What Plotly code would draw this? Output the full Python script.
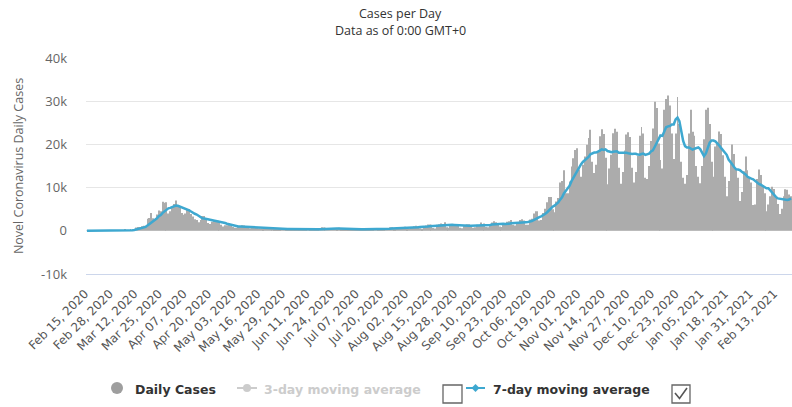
import plotly.graph_objects as go
import pandas as pd

# ---------------- data ----------------
START_DATE = "2020-02-15"

DAILY_CASES = [
    # Feb 15-29, 2020
    0, 0, 0, 0, 0, 0, 0, 0, 0, 0, 2, 4, 5, 10, 19,
    # Mar 2020
    57, 29, 49, 70, 140, 190, 130, 150, 240, 160, 440, 740, 880, 900, 1040, 1170, 1160, 2800, 2950, 4100,
    2900, 2500, 3800, 4700, 4500, 6700, 6500, 6600, 4000, 4500, 5500,
    # Apr 2020
    6200, 7000, 6000, 5500, 4100, 3700, 4000, 5000, 5000, 3900, 3300, 2700, 2500, 2000, 2500, 3400, 3400, 2700, 1800, 1600,
    2100, 2300, 2300, 2300, 1900, 1400, 1000, 1300, 1300, 1500,
    # May 2020
    1100, 900, 700, 700, 900, 1100, 1300, 1200, 1000, 700, 600, 900, 800, 900, 650, 600, 550, 350, 600, 800,
    500, 600, 600, 400, 300, 400, 400, 500, 600, 400, 300,
    # Jun 2020
    200, 300, 350, 400, 450, 400, 300, 250, 350, 300, 550, 400, 350, 250, 200, 350, 550, 800, 750, 700,
    550, 550, 500, 600, 600, 450, 700, 300, 250, 450,
    # Jul 2020
    450, 400, 400, 350, 250, 300, 400, 400, 450, 400, 300, 200, 300, 400, 350, 550, 550, 450, 250, 250,
    450, 550, 600, 800, 800, 300, 350, 650, 700, 900, 900,
    # Aug 2020
    950, 250, 500, 900, 750, 1050, 1150, 1100, 600, 450, 950, 1250, 1450, 1450, 1400, 650, 550, 1400, 1500, 1700,
    1600, 2000, 800, 700, 1300, 1600, 1500, 1600, 1400, 700, 600,
    # Sep 2020
    1250, 1400, 1500, 1500, 1300, 700, 800, 1400, 1200, 1900, 1500, 1700, 900, 800, 1400, 1900, 2200, 2000, 1500, 1000,
    900, 1800, 1800, 2100, 2200, 2500, 1400, 1200, 2000, 1800,
    # Oct 2020
    2500, 2700, 2400, 1400, 1400, 2600, 2800, 4000, 4500, 4500, 2400, 2500, 4100, 5100, 6600, 7800, 7800, 5000, 4300, 6800,
    7600, 11200, 11500, 14000, 8700, 8700, 11400, 14900, 16800, 18700, 19100,
    # Nov 2020
    14200, 12500, 15300, 17200, 19900, 21500, 23400, 16000, 13400, 15300, 18500, 21900, 23500, 22400, 16900, 10800, 14400, 17600, 22600, 23600,
    22900, 14600, 10900, 13600, 18600, 22300, 22800, 21700, 14600, 11200,
    # Dec 2020
    13600, 17300, 22000, 24000, 22500, 12300, 12000, 15000, 20800, 23700, 29900, 28400, 20200, 16400, 14400, 28000, 30500, 31300, 29000, 22500,
    16600, 22500, 31000, 24700, 16000, 12300, 10900, 12900, 22500, 28000, 22900,
    # Jan 2021
    22000, 15000, 12500, 11000, 15000, 21200, 28000, 28500, 24700, 16000, 12500, 19500, 20500, 23000, 22400, 17500, 12500, 8000, 11500, 15500,
    20000, 17800, 14300, 12300, 6900, 9000, 13800, 17200, 14000, 12300, 11200,
    # Feb 1-21, 2021
    6000, 6100, 12000, 14200, 12900, 10500, 8700, 4500, 6100, 8000, 10200, 9700, 7700, 6200, 3900, 5100, 8000, 9600, 9500, 8400,
    8000,
]

MOVING_AVG_7 = [
    # Feb 15-29, 2020
    0, 0, 0, 0, 0, 0, 0, 0, 0, 0, 0, 1, 2, 3, 6,
    # Mar 2020
    14, 18, 25, 34, 52, 78, 93, 106, 135, 150, 190, 280, 380, 490, 610, 750, 890, 1250, 1560, 2020,
    2300, 2510, 2890, 3400, 3640, 4150, 4500, 5010, 5210, 5310, 5500,
    # Apr 2020
    5740, 5850, 5780, 5600, 5550, 5400, 5150, 5010, 4760, 4460, 4140, 3940, 3770, 3490, 3130, 2900, 2830, 2740, 2610, 2490,
    2500, 2470, 2310, 2160, 2040, 1990, 1900, 1790, 1640, 1530,
    # May 2020
    1360, 1210, 1110, 1070, 1010, 990, 960, 970, 990, 990, 970, 970, 930, 870, 790, 740, 710, 680, 640, 640,
    580, 570, 570, 550, 540, 510, 460, 460, 460, 430, 410,
    # Jun 2020
    400, 390, 380, 360, 340, 340, 340, 350, 360, 350, 370, 360, 360, 350, 340, 340, 380, 410, 460, 510,
    560, 610, 630, 640, 610, 560, 560, 530, 490, 480,
    # Jul 2020
    460, 430, 420, 370, 360, 370, 360, 360, 360, 360, 360, 350, 350, 350, 340, 360, 380, 400, 410, 400,
    410, 440, 440, 480, 530, 540, 550, 580, 600, 640, 660,
    # Aug 2020
    680, 670, 690, 730, 740, 760, 790, 810, 860, 860, 860, 940, 990, 1040, 1080, 1090, 1100, 1160, 1200, 1240,
    1260, 1340, 1360, 1390, 1370, 1390, 1360, 1360, 1270, 1260, 1240,
    # Sep 2020
    1240, 1210, 1210, 1190, 1180, 1180, 1210, 1230, 1200, 1260, 1260, 1310, 1340, 1340, 1340, 1440, 1490, 1560, 1530, 1540,
    1560, 1610, 1600, 1590, 1610, 1760, 1810, 1860, 1890, 1890,
    # Oct 2020
    1940, 2010, 2000, 2000, 2030, 2110, 2260, 2470, 2730, 3030, 3170, 3330, 3540, 3870, 4240, 4710, 5190, 5560, 5810, 6200,
    6560, 7210, 7740, 8630, 9160, 9790, 10440, 11490, 12290, 13310, 14040,
    # Nov 2020
    14830, 15370, 15930, 16260, 16700, 17100, 17710, 17970, 18100, 18100, 18290, 18570, 18860, 18710, 18840, 18470, 18340, 18210, 18310, 18330,
    18400, 18070, 18090, 17970, 18110, 18070, 17960, 17790, 17790, 17830,
    # Dec 2020
    17830, 17640, 17600, 17770, 17890, 17560, 17670, 17870, 18370, 18610, 19460, 20300, 21430, 22060, 21970, 23000, 23970, 24170, 24260, 24590,
    24610, 25770, 26200, 25370, 23190, 20800, 19600, 19300, 19300, 19000, 18800,
    # Jan 2021
    19000, 19200, 19300, 18900, 18000, 17300, 17900, 19200, 20400, 20900, 20900, 20700, 20300, 19800, 19200, 18600, 18100, 17600, 16490, 15770,
    15340, 14690, 14230, 14200, 14040, 13690, 13440, 13040, 12500, 12210, 12060,
    # Feb 1-21, 2021
    11930, 11510, 11260, 10830, 10670, 10410, 10060, 9840, 9840, 9270, 8700, 8240, 7840, 7490, 7400, 7260, 7260, 7170, 7140, 7240,
    7500,
]

TICK_LABELS = [
    "Feb 15, 2020", "Feb 28, 2020", "Mar 12, 2020", "Mar 25, 2020", "Apr 07, 2020", "Apr 20, 2020",
    "May 03, 2020", "May 16, 2020", "May 29, 2020", "Jun 11, 2020", "Jun 24, 2020", "Jul 07, 2020",
    "Jul 20, 2020", "Aug 02, 2020", "Aug 15, 2020", "Aug 28, 2020", "Sep 10, 2020", "Sep 23, 2020",
    "Oct 06, 2020", "Oct 19, 2020", "Nov 01, 2020", "Nov 14, 2020", "Nov 27, 2020", "Dec 10, 2020",
    "Dec 23, 2020", "Jan 05, 2021", "Jan 18, 2021", "Jan 31, 2021", "Feb 13, 2021",
]

Y_TICK_VALUES = [-10000, 0, 10000, 20000, 30000, 40000]
Y_TICK_LABELS = ["-10k", "0", "10k", "20k", "30k", "40k"]

SERIES_NAMES = ["Daily Cases", "3-day moving average", "7-day moving average"]
TITLE_LINES = ["Cases per Day", "Data as of 0:00 GMT+0"]

# ---------------- layout constants (pixels) ----------------
W, H = 792, 407
PL, PR, PT, PB = 86, 792, 58, 274

BAR_COLOR = "#acacac"
LINE_COLOR = "#3ea8d0"
GREY_TEXT = "#666666"


def px(x):
    return (x - PL) / (PR - PL)


def py(y):
    return (PB - y) / (PB - PT)


dates = pd.date_range(START_DATE, periods=len(DAILY_CASES), freq="D")
tick_vals = pd.to_datetime(TICK_LABELS, format="%b %d, %Y")

fig = go.Figure()
fig.add_trace(go.Bar(
    x=dates, y=DAILY_CASES, name=SERIES_NAMES[0],
    marker=dict(color=BAR_COLOR, line=dict(width=0)),
    showlegend=False,
))
fig.add_trace(go.Scatter(
    x=dates[:len(MOVING_AVG_7)], y=MOVING_AVG_7, name=SERIES_NAMES[2],
    mode="lines", line=dict(color=LINE_COLOR, width=2.5),
    showlegend=False,
))

x_start = dates[0] - pd.Timedelta(hours=12)
x_end = dates[-1] + pd.Timedelta(hours=12)

fig.update_layout(
    width=W, height=H,
    margin=dict(l=PL, r=W - PR, t=PT, b=H - PB, autoexpand=False),
    paper_bgcolor="white", plot_bgcolor="white",
    bargap=0.5,
    showlegend=False,
    xaxis=dict(
        type="date", range=[x_start, x_end],
        tickmode="array", tickvals=tick_vals, ticktext=TICK_LABELS,
        tickangle=-45, ticks="", showgrid=False,
        showline=True, linecolor="#ccd6eb", linewidth=1,
        tickfont=dict(family="DejaVu Sans", size=12, color="#555555"),
        ticklabelstandoff=7,
        ticklabelshift=-2,
        zeroline=False,
    ),
    yaxis=dict(
        range=[-10000, 40000],
        tickmode="array", tickvals=Y_TICK_VALUES, ticktext=Y_TICK_LABELS,
        showgrid=True, gridcolor="#e6e6e6", gridwidth=1,
        zeroline=False, ticks="",
        tickfont=dict(family="Open Sans", size=13, color=GREY_TEXT),
        ticklabelstandoff=18,
        title=dict(text="Novel Coronavirus Daily Cases",
                   font=dict(family="Open Sans", size=12.5, color=GREY_TEXT),
                   standoff=14),
    ),
)

shapes = []
annos = []

# ---------------- title (two centred lines) ----------------
annos.append(dict(text=TITLE_LINES[0], x=px(400), y=py(13), xref="paper", yref="paper",
                  xanchor="center", yanchor="middle", showarrow=False,
                  font=dict(family="Open Sans", size=12.5, color="#333333")))
annos.append(dict(text=TITLE_LINES[1], x=px(400), y=py(30), xref="paper", yref="paper",
                  xanchor="center", yanchor="middle", showarrow=False,
                  font=dict(family="Open Sans", size=12.5, color="#333333")))

# ---------------- custom legend (Highcharts style with checkboxes) ----------------
LEG_Y = 389
LEG_FONT = 12.5

# Daily Cases: grey circle
shapes.append(dict(type="circle", xref="paper", yref="paper",
                   x0=px(111), x1=px(123), y0=py(382), y1=py(394),
                   fillcolor="#9e9e9e", line=dict(width=0)))
annos.append(dict(text="<b>" + SERIES_NAMES[0] + "</b>", x=px(133), y=py(LEG_Y),
                  xref="paper", yref="paper", xanchor="left", yanchor="middle",
                  showarrow=False, font=dict(family="DejaVu Sans", size=LEG_FONT, color="#333333")))

# 3-day moving average (hidden series -> greyed)
shapes.append(dict(type="line", xref="paper", yref="paper",
                   x0=px(237), x1=px(257), y0=py(LEG_Y - 1), y1=py(LEG_Y - 1),
                   line=dict(color="#cccccc", width=2)))
shapes.append(dict(type="circle", xref="paper", yref="paper",
                   x0=px(243), x1=px(251), y0=py(LEG_Y - 5), y1=py(LEG_Y + 3),
                   fillcolor="#cccccc", line=dict(width=0)))
annos.append(dict(text="<b>" + SERIES_NAMES[1] + "</b>", x=px(262), y=py(LEG_Y),
                  xref="paper", yref="paper", xanchor="left", yanchor="middle",
                  showarrow=False, font=dict(family="DejaVu Sans", size=LEG_FONT, color="#cccccc")))

# checkbox 1 (unchecked)
shapes.append(dict(type="rect", xref="paper", yref="paper",
                   x0=px(443), x1=px(462), y0=py(385), y1=py(403),
                   fillcolor="white", line=dict(color="#666666", width=1.3)))

# 7-day moving average
shapes.append(dict(type="line", xref="paper", yref="paper",
                   x0=px(466), x1=px(485), y0=py(LEG_Y - 1), y1=py(LEG_Y - 1),
                   line=dict(color=LINE_COLOR, width=2)))
cx, cy = 475.5, LEG_Y - 1
shapes.append(dict(type="path", xref="paper", yref="paper",
                   path=f"M {px(cx)},{py(cy - 4)} L {px(cx + 4)},{py(cy)} L {px(cx)},{py(cy + 4)} L {px(cx - 4)},{py(cy)} Z",
                   fillcolor=LINE_COLOR, line=dict(width=0)))
annos.append(dict(text="<b>" + SERIES_NAMES[2] + "</b>", x=px(491), y=py(LEG_Y),
                  xref="paper", yref="paper", xanchor="left", yanchor="middle",
                  showarrow=False, font=dict(family="DejaVu Sans", size=LEG_FONT, color="#333333")))

# checkbox 2 (checked)
shapes.append(dict(type="rect", xref="paper", yref="paper",
                   x0=px(672), x1=px(690), y0=py(385), y1=py(403),
                   fillcolor="white", line=dict(color="#666666", width=1.3)))
shapes.append(dict(type="path", xref="paper", yref="paper",
                   path=f"M {px(675)},{py(393)} L {px(679.5)},{py(398.5)} L {px(687)},{py(388)}",
                   line=dict(color="#555555", width=1.6)))

fig.update_layout(shapes=shapes, annotations=annos)

fig.write_html(
    "out.html",
    config={"displayModeBar": False},
    post_script="document.body.style.margin='0';document.body.style.overflow='hidden';",
)
